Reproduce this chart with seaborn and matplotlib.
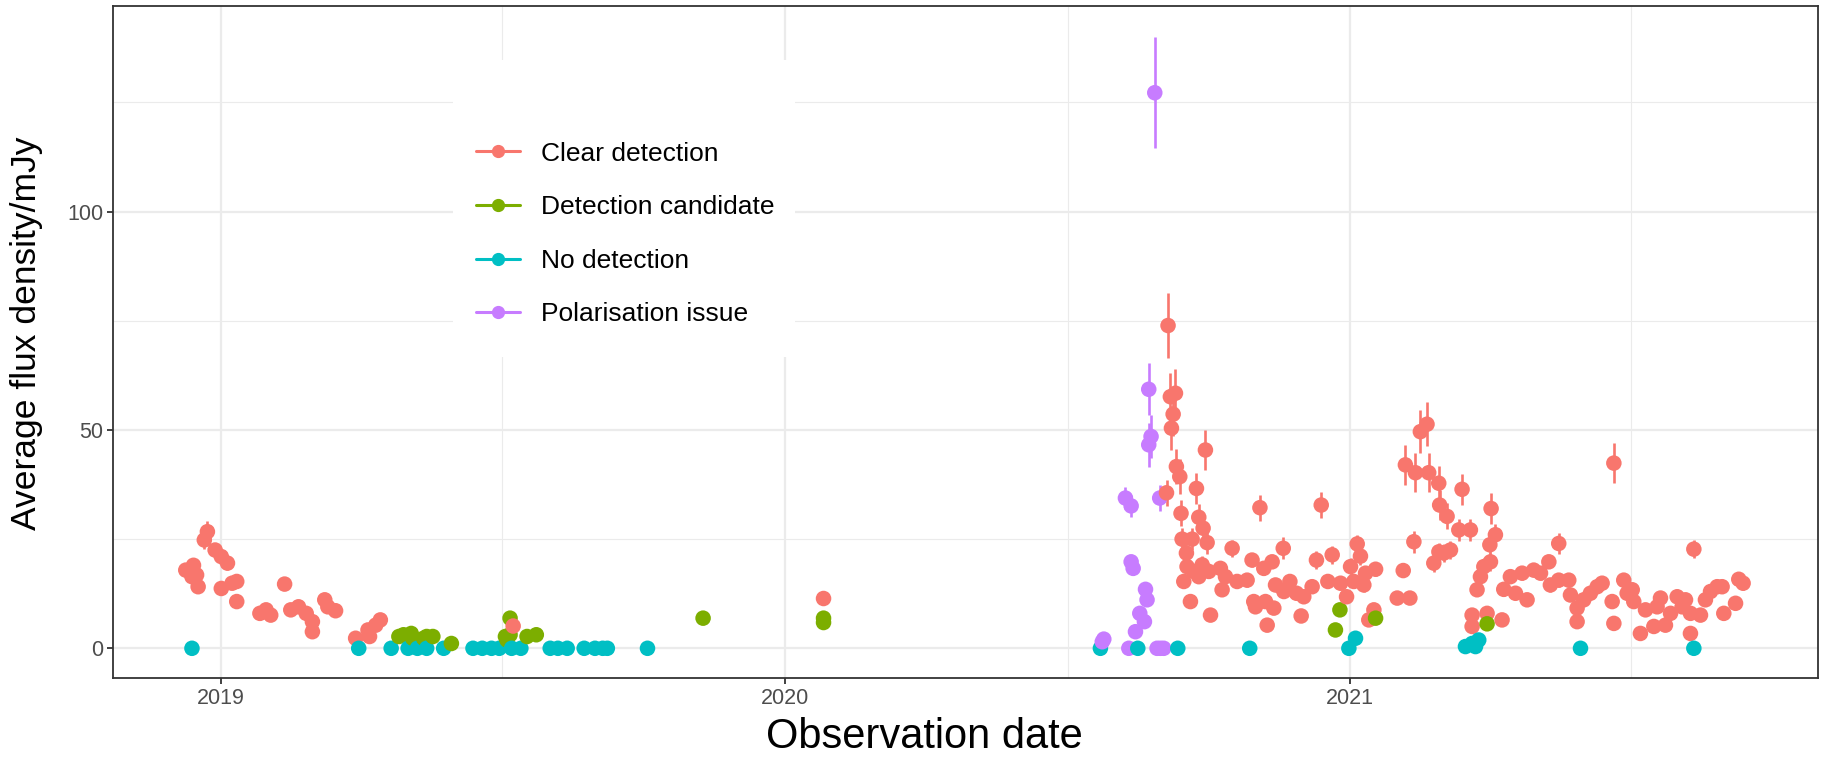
import numpy as np
import pandas as pd
import matplotlib
matplotlib.use("Agg")
import matplotlib.pyplot as plt
import matplotlib.dates as mdates
from matplotlib.lines import Line2D
from matplotlib.patches import Rectangle
import seaborn as sns

sns.set_theme(style="whitegrid")
plt.rcParams['font.family'] = ['Liberation Sans', 'DejaVu Sans']

# ---------------- data ----------------
categories = ["Clear detection", "Detection candidate", "No detection", "Polarisation issue"]
palette = ["#F8766D", "#7CAE00", "#00BFC4", "#C77CFF"]
epoch = "2019-01-01"   # day offsets below are days since this date

clear_days = [-23, -19, -18, -16, -15, -11, -9, -4, 0, 0, 4, 7, 10, 10, 25, 29, 32, 41, 45, 50,
              55, 59, 59, 67, 69, 74, 87, 95, 96, 100, 103, 189, 390,
              612.1, 613.1, 614.6, 617.9, 616.4, 615.3, 618.5, 620.7, 621.5, 622.2, 623.3, 625.0,
              625.4, 627.6, 628.7, 629.8, 631.5, 633.0, 633.0, 635.2, 635.8, 637.3, 638.4, 639.5,
              640.6, 647.0, 648.1, 650.3, 654.6, 657.8, 664.3, 667.5, 668.6, 669.7, 672.6,
              675.1, 676.2, 677.3, 680.5, 681.6, 682.7, 687.7, 688.1, 692.0, 696.3, 699.3, 701.0,
              706.4, 709.2, 712.3, 716.6, 719.4, 724.8, 728.7, 731.3, 733.4, 735.6, 737.7, 739.9,
              741.0, 743.1, 746.4, 747.5, 761.5, 765.4, 769.7, 772.3,
              766.8, 773.3, 776.5, 780.8, 781.9, 788.4, 789.0, 793.8, 801.4, 803.5, 808.9, 822.3,
              785.2, 788.5, 791.7, 796.0, 821.5, 825.1, 817.6, 821.9, 815.4, 813.2, 810.0, 810.0,
              819.7, 829.4, 830.5, 834.8, 838.1, 842.4, 845.6, 849.9, 854.3, 859.7, 860.7, 866.1,
              866.1, 872.6, 873.7, 878.0, 878.0, 882.3, 886.6, 891.0, 894.2, 900.7, 901.8, 901.8,
              908.2, 910.4, 913.7, 914.7, 919.0, 922.3, 927.7, 929.8, 932.0, 935.2, 938.5, 942.8,
              946.0, 948.2, 951.4, 951.4, 953.6, 957.9, 961.1, 964.4, 968.7, 971.9, 973.0, 980.6,
              982.7, 985.5]
clear_flux = [17.9, 16.4, 19.0, 16.8, 14.1, 24.8, 26.7, 22.5, 21.0, 13.7, 19.5, 14.9, 15.3, 10.7,
              8.0, 8.8, 7.6, 14.7, 8.8, 9.5, 8.0, 6.1, 3.8, 11.1, 9.5, 8.6, 2.3, 4.2, 2.7, 5.3, 6.5,
              5.1, 11.4,
              35.6, 73.9, 57.6, 58.4, 53.6, 50.4, 41.6, 39.3, 30.9, 25.0, 15.3, 21.8,
              18.7, 10.7, 25.0, 17.6, 36.6, 30.0, 16.4, 19.1, 27.5, 45.4, 24.2, 17.6,
              7.6, 18.3, 13.4, 16.4, 22.9, 15.3, 15.6, 20.2, 10.7, 9.5, 32.2,
              18.3, 10.7, 5.3, 19.8, 9.2, 14.5, 22.9, 13.0, 15.3, 12.6, 7.4, 11.8,
              14.1, 20.2, 32.8, 15.3, 21.4, 14.9, 11.8, 18.7, 15.3, 23.9, 21.1, 14.5,
              17.2, 6.5, 8.8, 18.1, 11.5, 17.8, 11.5, 24.4,
              42.0, 40.2, 49.6, 51.3, 40.2, 37.8, 32.8, 30.2, 27.1, 36.4, 27.1, 32.0,
              19.5, 22.1, 21.8, 22.5, 23.7, 26.0, 18.7, 19.8, 16.4, 13.4, 7.6, 5.0,
              8.0, 6.5, 13.5, 16.4, 12.6, 17.2, 11.1, 17.9, 17.2, 19.8, 14.5, 24.0,
              15.6, 15.6, 12.2, 9.2, 6.1, 11.1, 12.6, 14.1, 14.9, 10.7, 42.4, 5.7,
              15.6, 12.6, 13.4, 10.7, 3.4, 8.8, 5.0, 9.5, 11.5, 5.3, 8.0, 11.8,
              9.5, 11.1, 8.0, 3.4, 22.7, 7.6, 11.1, 13.0, 14.1, 14.1, 8.0, 10.3,
              15.8, 14.9]
clear_err = [1.5, 1.0, 1.5, 1.0, 1.0, 2.0, 2.5, 1.5, 1.5, 1.0, 1.5, 1.0, 1.0, 1.0,
             0.8, 0.8, 0.8, 1.0, 0.8, 0.8, 0.8, 0.8, 0.8, 1.0, 0.8, 0.8, 0.5, 0.5, 0.5, 0.5, 0.5,
             0.5, 1.0,
             3.0, 7.5, 5.5, 5.5, 5.0, 5.0, 4.0, 4.0, 3.0, 2.5, 1.5, 2.0,
             2.0, 1.0, 2.5, 1.5, 3.5, 3.0, 1.5, 2.0, 2.5, 4.5, 2.5, 1.5,
             1.0, 1.5, 1.5, 1.5, 2.0, 1.5, 1.5, 1.5, 1.0, 1.0, 3.0,
             1.5, 1.0, 0.8, 1.5, 1.0, 1.5, 2.5, 1.5, 1.5, 1.2, 1.0, 1.2,
             1.5, 2.0, 3.0, 1.5, 2.0, 1.5, 1.2, 2.0, 1.5, 2.0, 2.0, 1.5,
             1.5, 1.0, 1.0, 1.5, 1.0, 1.5, 1.0, 2.5,
             4.5, 4.5, 5.0, 5.0, 4.5, 4.0, 3.5, 3.0, 2.5, 3.5, 2.5, 3.5,
             2.0, 2.0, 2.0, 2.0, 2.5, 2.5, 2.0, 2.0, 1.5, 1.5, 1.0, 1.0,
             1.0, 1.0, 1.5, 1.5, 1.2, 1.5, 1.2, 1.5, 1.5, 1.5, 1.5, 2.5,
             1.5, 1.5, 1.2, 1.0, 1.0, 1.0, 1.2, 1.2, 1.2, 1.0, 4.5, 0.8,
             1.5, 1.2, 1.2, 1.0, 0.8, 1.0, 0.8, 1.0, 1.0, 0.8, 1.0, 1.0,
             1.0, 1.0, 1.0, 0.8, 2.0, 1.0, 1.0, 1.2, 1.2, 1.2, 1.0, 1.0,
             1.5, 1.5]

cand_days = [115, 118, 123, 124, 131, 133, 137, 149, 184, 185, 187, 187, 198, 204, 312, 390, 390,
             721.5, 724.4, 747.5, 819.7]
cand_flux = [2.7, 3.1, 3.4, 2.3, 2.3, 2.7, 2.7, 1.1, 2.7, 1.9, 3.1, 6.9, 2.7, 3.1, 6.9, 6.9, 5.9,
             4.2, 8.8, 6.9, 5.6]
cand_err = [0.4, 0.4, 0.4, 0.4, 0.4, 0.4, 0.4, 0.3, 0.4, 0.3, 0.4, 0.6, 0.4, 0.4, 0.5, 0.6, 0.5,
            0.5, 0.7, 0.6, 0.5]

none_days = [-19, 89, 110, 121, 127, 133, 144, 163, 169, 175, 180, 188, 194, 213, 218, 224, 235,
             242, 247, 250, 276, 569.3, 593.5, 619.4, 666, 730.2, 734.5, 805.7, 810, 814.3,
             812.2, 880.2, 953.6]
none_flux = [0, 0, 0, 0, 0, 0, 0, 0, 0, 0, 0, 0, 0, 0, 0, 0, 0, 0, 0, 0, 0, 0, 0, 0, 0, 0,
             2.3, 0.4, 1.1, 1.9, 0.4, 0, 0]
none_err = [0] * 33

pol_days = [570.5, 571.5, 585.5, 589.2, 592.0, 594.8, 597.8, 598.5, 599.5, 589.2, 590.5, 587.7,
            600.6, 602.1, 600.6, 604.5, 606.0, 607.7, 608.2, 610.3]
pol_flux = [1.5, 2.1, 34.4, 32.6, 3.8, 8.0, 6.1, 13.5, 11.1, 19.8, 18.3, 0,
            59.3, 48.5, 46.6, 127.2, 0, 34.4, 0, 0]
pol_err = [0.4, 0.5, 2.5, 2.5, 0.5, 0.8, 0.8, 1.0, 1.0, 1.5, 1.5, 0,
           6.0, 5.0, 5.0, 12.7, 0, 3.0, 0, 0]

# ---------------- frame ----------------
frames = []
for cat, d, f, e in zip(categories,
                        [clear_days, cand_days, none_days, pol_days],
                        [clear_flux, cand_flux, none_flux, pol_flux],
                        [clear_err, cand_err, none_err, pol_err]):
    frames.append(pd.DataFrame({
        "date": pd.Timestamp(epoch) + pd.to_timedelta(np.array(d, dtype=float), unit="D"),
        "flux": f, "err": e, "status": cat}))
df = pd.concat(frames, ignore_index=True).sort_values("date", kind="stable")

# ---------------- figure ----------------
W, H = 1825, 760
fig = plt.figure(figsize=(W / 100, H / 100), dpi=100)
ax = fig.add_axes([113.2 / W, 1 - 678 / H, (1818 - 113.2) / W, (678 - 5.8) / H])
ax.set_facecolor("white")

for cat, col in zip(categories, palette):
    sub = df[(df.status == cat) & (df.err > 0)]
    ax.errorbar(sub["date"], sub["flux"], yerr=sub["err"], fmt="none", ecolor=col,
                elinewidth=1.9, capsize=0, zorder=2)

sns.scatterplot(data=df, x="date", y="flux", hue="status", hue_order=categories,
                palette=palette, s=125, linewidth=0, edgecolor="none", legend=False,
                ax=ax, zorder=3)

# axes limits / ticks
ax.set_xlim(pd.Timestamp("2018-10-23"), pd.Timestamp("2021-10-31"))
ax.set_ylim(-6.8, 147.1)
ax.xaxis.set_major_locator(mdates.YearLocator())
ax.xaxis.set_major_formatter(mdates.DateFormatter("%Y"))
ax.set_xticks([mdates.date2num(pd.Timestamp(s)) for s in
               ["2019-07-02", "2020-07-02", "2021-07-02"]], minor=True)
ax.set_yticks([0, 50, 100])
ax.set_yticks([25, 75, 125], minor=True)

ax.grid(which="major", color="#EBEBEB", linewidth=1.6)
ax.grid(which="minor", color="#EBEBEB", linewidth=0.8)
ax.set_axisbelow(True)
for sp in ax.spines.values():
    sp.set_color("#333333")
    sp.set_linewidth(1.3)
    sp.set_visible(True)
ax.tick_params(which="major", length=4, width=1.3, color="#333333",
               labelsize=15.5, labelcolor="#4D4D4D", pad=3, bottom=True, left=True)
ax.tick_params(which="minor", length=0)

ax.set_xlabel("Observation date", fontsize=30, color="black")
ax.set_ylabel("Average flux density/mJy", fontsize=25.5, color="black")
ax.xaxis.set_label_coords(0.476, -0.058)
ax.yaxis.set_label_coords(-0.041, 0.513)

# legend with white background box
ax.add_patch(Rectangle((453 / W, 1 - 357 / H), 342 / W, 297 / H, transform=fig.transFigure,
                       facecolor="white", edgecolor="none", zorder=1))
handles = [Line2D([0], [0], color=c, lw=2.2, marker="o", markersize=8.5) for c in palette]
leg = ax.legend(handles, categories, loc="center left",
                bbox_to_anchor=(476 / W, 1 - 234 / H), bbox_transform=fig.transFigure,
                frameon=False, fontsize=19, borderpad=0, borderaxespad=0,
                handlelength=1.65, handletextpad=0.8, labelspacing=1.12)
for t in leg.get_texts():
    t.set_color("black")

fig.savefig("out.png", dpi=100)
